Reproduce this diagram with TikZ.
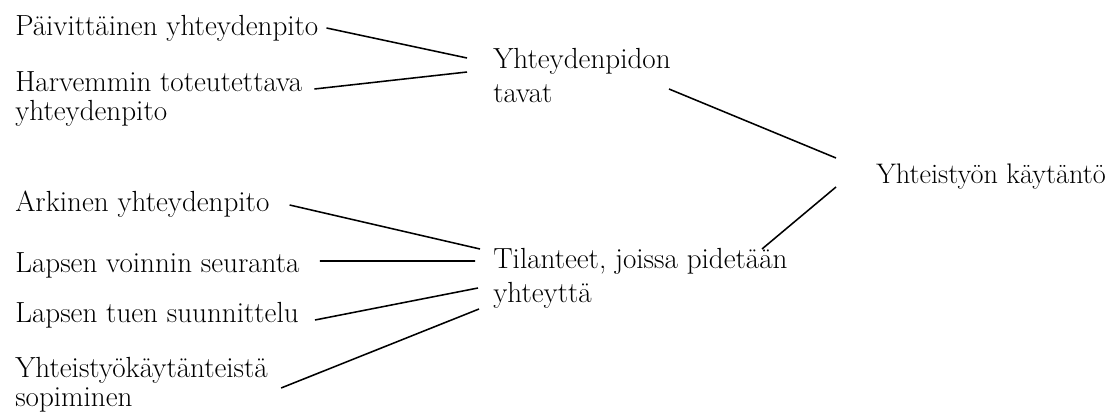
\documentclass[tikz,border=0pt]{standalone}
\usepackage{tikz}

\begin{document}
\begin{tikzpicture}[
    x=0.025cm, y=-0.025cm,
    lbl/.style={inner sep=0pt, align=left, font=\fontsize{20.7}{20.6}\selectfont},
    hub/.style={lbl, font=\fontsize{20.7}{24.2}\selectfont},
    link/.style={draw=black, line width=1.1pt}
]
    \useasboundingbox (0,0) rectangle (1111,414);

    % upper branch
    \node[lbl, anchor=base west] (daily) at (15,35) {Päivittäinen yhteydenpito};
    \node[lbl, anchor=north west] (rare) at (15,71.1) {Harvemmin toteutettava\\yhteydenpito};
    \node[hub, anchor=north west] (ways) at (493,47.8) {Yhteydenpidon\\tavat};

    % root
    \node[lbl, anchor=base west, font=\fontsize{20.1}{20.6}\selectfont] (practice) at (876,183) {Yhteistyön käytäntö};

    % lower branch
    \node[lbl, anchor=base west] (everyday) at (15,211) {Arkinen yhteydenpito};
    \node[lbl, anchor=base west] (wellbeing) at (15,272) {Lapsen voinnin seuranta};
    \node[lbl, anchor=base west] (support) at (15,322) {Lapsen tuen suunnittelu};
    \node[lbl, anchor=north west] (agree) at (15,356.8) {Yhteistyökäytänteistä\\sopiminen};
    \node[hub, anchor=north west] (situations) at (493,247.8) {Tilanteet, joissa pidetään\\yhteyttä};

    \draw[link] ([shift={(8,-7)}]daily.base east) -- ([shift={(-26,10.2)}]ways.north west);
    \draw[link] ([shift={(12,17.9)}]rare.north east) -- ([shift={(-26,24.2)}]ways.north west);
    \draw[link] ([shift={(176,41.2)}]ways.north west) -- ([shift={(-40,-25)}]practice.base west);
    \draw[link] ([shift={(269,1.2)}]situations.north west) -- ([shift={(-40,4)}]practice.base west);

    \draw[link] ([shift={(20,-6)}]everyday.base east) -- ([shift={(-13,1.2)}]situations.north west);
    \draw[link] ([shift={(20,-11)}]wellbeing.base east) -- ([shift={(-18,13.2)}]situations.north west);
    \draw[link] ([shift={(16,-2)}]support.base east) -- ([shift={(-15,40.2)}]situations.north west);
    \draw[link] ([shift={(13,31.2)}]agree.north east) -- ([shift={(-14,61.2)}]situations.north west);
\end{tikzpicture}
\end{document}
